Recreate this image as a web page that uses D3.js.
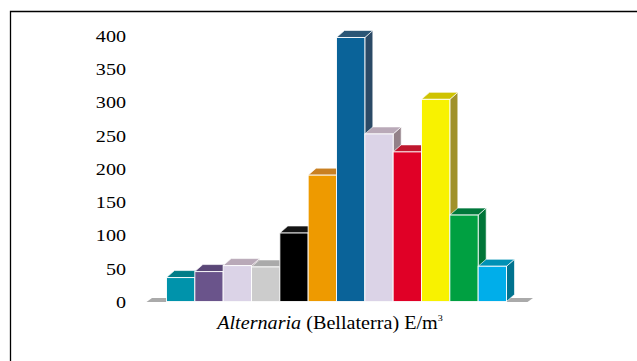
<!DOCTYPE html>
<html>
<head>
<meta charset="utf-8">
<script src="https://cdn.jsdelivr.net/npm/d3@7/dist/d3.min.js"></script>
<style>
  html, body { margin: 0; padding: 0; background: #fff; }
  svg { display: block; }
</style>
</head>
<body>
<svg id="chart" width="637" height="361"></svg>
<script>
// Monthly Alternaria spore counts (one bar per period)
const categories = ["1", "2", "3", "4", "5", "6", "7", "8", "9", "10", "11", "12"];
const values = [36, 45, 54, 52, 103, 190, 397, 252, 225, 304, 130, 53];
const tickValues = [0, 50, 100, 150, 200, 250, 300, 350, 400];

// front / top / side face colours for each bar
const frontColors = ["#0093ab", "#6a548b", "#dbd3e7", "#cccccc", "#000000", "#ee9a00",
                     "#0a6399", "#dbd3e7", "#e00026", "#f8f200", "#00a041", "#00aeea"];
const topColors   = ["#007d88", "#5a4777", "#b9a9b8", "#aaaaaa", "#141414", "#c98022",
                     "#2b5676", "#b9a9b8", "#bf172e", "#cfc300", "#00783b", "#0091b5"];
const sideColors  = ["#006a74", "#4b3b63", "#938189", "#999999", "#0c0c0c", "#a86a1c",
                     "#2b4a66", "#938189", "#9c1224", "#a0912a", "#007538", "#00738f"];

const svg = d3.select("#chart");
const serif = "'Liberation Serif', 'Times New Roman', serif";

// outer frame
svg.append("path")
  .attr("d", "M10.5,361 L10.5,11.5 L637,11.5")
  .attr("fill", "none").attr("stroke", "#000").attr("stroke-width", 1.3);

const x = d3.scaleBand().domain(categories).range([166.5, 506.5]).paddingInner(0);
const y = d3.scaleLinear().domain([0, 400]).range([301.5, 35.5]);

const dx = 8, dy = -7;   // depth offset of the 3D bars

// floor slab
const fx0 = 146.5, fx1 = 527.5, fy = y(0) + 0.5, fdx = 5.5, fdy = -4;
svg.append("path")
  .attr("d", `M${fx0},${fy} L${fx1},${fy} L${fx1 + fdx},${fy + fdy} L${fx0 + fdx},${fy + fdy} Z`)
  .attr("fill", "#aaaaaa");

// value axis labels
const axis = d3.axisLeft(y).tickValues(tickValues).tickSize(0).tickPadding(0);
const gAxis = svg.append("g").attr("transform", "translate(126,0)").call(axis);
gAxis.select(".domain").remove();
gAxis.selectAll("text")
  .attr("font-family", serif)
  .attr("font-size", 17.5)
  .attr("fill", "#000")
  .attr("dy", "0.34em")
  .attr("x", 0)
  .attr("transform", "scale(1.15,1)");

// bars, drawn left to right so each one occludes the previous bar's side
const bars = svg.append("g");
categories.forEach((c, i) => {
  const x0 = x(c), x1 = x(c) + x.bandwidth();
  const y0 = y(0), y1 = y(values[i]);
  const g = bars.append("g");
  g.append("path") // side
    .attr("d", `M${x1},${y1} L${x1 + dx},${y1 + dy} L${x1 + dx},${y0 + dy} L${x1},${y0} Z`)
    .attr("fill", sideColors[i]).attr("stroke", "#fff").attr("stroke-width", 0.8).attr("stroke-opacity", 0.8);
  g.append("path") // top
    .attr("d", `M${x0},${y1} L${x1},${y1} L${x1 + dx},${y1 + dy} L${x0 + dx},${y1 + dy} Z`)
    .attr("fill", topColors[i]).attr("stroke", "#fff").attr("stroke-width", 0.8).attr("stroke-opacity", 0.8);
  g.append("rect") // front
    .attr("x", x0).attr("y", y1).attr("width", x1 - x0).attr("height", y0 - y1)
    .attr("fill", frontColors[i]).attr("stroke", "#fff").attr("stroke-width", 1).attr("stroke-opacity", 0.9);
});

// axis title
const sx = 1.12;
const title = svg.append("text")
  .attr("transform", `scale(${sx},1)`)
  .attr("x", 330 / sx).attr("y", 329)
  .attr("text-anchor", "middle")
  .attr("font-family", serif)
  .attr("font-size", 18)
  .attr("fill", "#000");
title.append("tspan").attr("font-style", "italic").text("Alternaria");
title.append("tspan").text(" (Bellaterra) E/m");
title.append("tspan").attr("font-size", 9).attr("dy", -8).text("3");
</script>
</body>
</html>
